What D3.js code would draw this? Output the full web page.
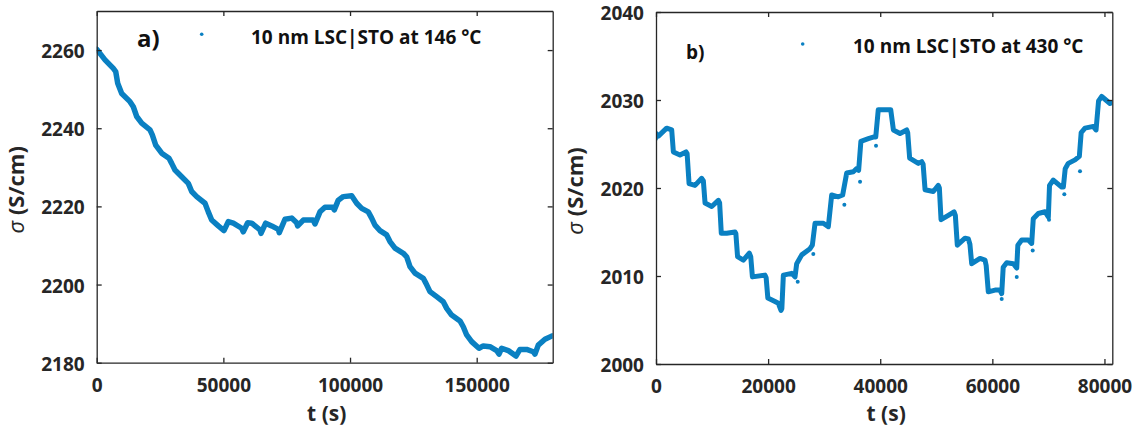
<!DOCTYPE html>
<html><head><meta charset="utf-8">
<script src="https://cdn.jsdelivr.net/npm/d3@7"></script>
<style>body{margin:0;background:#fff}svg{display:block}</style>
</head><body>
<script>
// ---------- data ----------
const leftT = [0,3280,6560,7500,8290,9870,13140,14450,15790,17760,21040,21950,23290,25660,28540,29600,30900,33550,36160,37500,39470,42750,44050,45390,48000,50240,51940,53920,57230,57860,59600,61180,64460,64850,66700,69070,71680,72070,74320,76970,78940,79330,81550,85490,86160,88140,90110,93150,93790,95370,97340,100650,102620,104600,107200,108540,109850,111820,114460,115770,117740,121020,122360,123670,125640,128910,129980,131550,134200,136800,138150,140110,143400,144700,146040,148010,150900,152600,155240,157880,158790,159850,162460,165500,167080,169720,172330,173000,174300,176940,179580,180000];
const leftSigma = [2260.2,2257.5,2255.3,2254.5,2251.5,2248.9,2246.8,2245.5,2243.0,2241.3,2239.6,2238.3,2235.7,2233.6,2232.3,2231.0,2229.3,2227.6,2225.9,2223.8,2222.5,2220.8,2218.6,2216.5,2215.0,2213.8,2216.1,2215.7,2214.4,2213.5,2215.8,2215.7,2214.0,2213.1,2215.7,2215.0,2214.1,2213.3,2216.7,2217.0,2215.8,2215.0,2216.5,2216.5,2215.5,2218.6,2219.8,2219.8,2219.1,2221.6,2222.5,2222.7,2220.8,2219.5,2218.6,2217.0,2215.2,2213.8,2212.7,2211.0,2209.3,2208.0,2207.1,2204.6,2202.9,2201.6,2200.3,2198.2,2196.9,2195.6,2193.9,2192.2,2190.7,2189.2,2187.1,2185.4,2183.7,2184.3,2184.1,2183.1,2182.2,2183.7,2183.1,2181.7,2183.4,2183.4,2182.8,2182.2,2184.5,2186.0,2186.8,2186.9];

const rightT = [0,420,1900,2800,3100,4280,5350,5550,5900,6960,8150,8450,8750,9940,11120,11350,11650,12610,14090,14250,14550,15580,16650,16900,17200,19450,19650,19950,21230,21820,22300,22450,22720,24200,24800,25100,26000,27480,27890,28370,29850,30740,31340,32520,33300,34020,35200,35800,36150,36550,37880,38900,39200,39650,41450,41870,42350,43530,44720,44900,45250,46800,47400,47650,48000,49470,50360,50550,50850,52150,53160,53400,53750,55130,55720,56000,56320,57800,58690,58900,59280,60480,61370,61670,61940,62560,63750,64350,64550,65240,66430,67020,67300,68200,69400,69990,70200,70880,72370,72670,73000,73550,74750,75520,75850,76530,78020,78500,78950,79510,80990,81400];
const rightSigma = [2026.2,2025.9,2026.8,2026.6,2024.1,2023.75,2024.1,2023.9,2020.5,2020.3,2021.1,2020.8,2018.3,2017.9,2018.6,2018.3,2014.85,2014.85,2015.0,2014.8,2012.2,2011.8,2012.6,2012.2,2009.9,2010.1,2009.8,2007.5,2007.1,2006.9,2006.1,2006.3,2010.1,2010.3,2009.9,2011.4,2012.4,2013.1,2013.5,2016.0,2016.0,2015.6,2019.2,2019.0,2019.2,2021.7,2021.85,2022.2,2022.0,2025.3,2025.6,2025.8,2025.8,2028.9,2028.9,2028.9,2026.6,2026.2,2026.6,2026.3,2023.4,2022.8,2023.0,2022.7,2019.8,2019.6,2020.3,2020.0,2016.4,2016.9,2017.3,2016.9,2013.5,2014.3,2014.2,2013.6,2011.4,2012.0,2011.8,2011.2,2008.2,2008.4,2008.4,2008.0,2011.0,2011.5,2011.4,2010.9,2013.5,2014.1,2014.1,2013.7,2016.5,2017.1,2017.3,2016.7,2020.3,2020.9,2020.1,2020.1,2022.2,2022.8,2023.2,2023.6,2026.3,2026.8,2027.0,2026.6,2029.9,2030.4,2029.6,2029.7];

const rightOutT = [0,25280,28060,33600,36400,39250,61670,64350,67200,70110,72840,75640];
const rightOutSigma = [2025.6,2009.35,2012.5,2018.1,2020.7,2024.8,2007.4,2009.9,2012.9,2016.4,2019.3,2021.9];

const leftXTicks = [0,50000,100000,150000];
const leftYTicks = [2180,2200,2220,2240,2260];
const rightXTicks = [0,20000,40000,60000,80000];
const rightYTicks = [2000,2010,2020,2030,2040];
const legendTexts = ["10 nm LSC|STO at 146 °C","10 nm LSC|STO at 430 °C"];
const panelTags = ["a)","b)"];

// ---------- drawing ----------
const BLUE = "#0a80c2", INK = "#262626", FONT = "'Open Sans', sans-serif";
const svg = d3.select("body").append("svg").attr("width",1137).attr("height",428);

function drawPanel(o, idx){
  const x = d3.scaleLinear().domain(o.xDomain).range([o.left,o.right]);
  const y = d3.scaleLinear().domain(o.yDomain).range([o.bottom,o.top]);
  const g = svg.append("g");
  const cid = "clip"+idx;
  g.append("clipPath").attr("id",cid).append("rect")
    .attr("x",o.left).attr("y",o.top).attr("width",o.right-o.left).attr("height",o.bottom-o.top);
  const data = o.t.map((t,i)=>[t,o.s[i]]);
  const plot = g.append("g").attr("clip-path",`url(#${cid})`);
  plot.append("path").datum(data)
    .attr("d", d3.line().x(d=>x(d[0])).y(d=>y(d[1])))
    .attr("fill","none").attr("stroke",BLUE).attr("stroke-width",o.lw)
    .attr("stroke-linejoin","round").attr("stroke-linecap","round");
  if (o.outT){
    plot.selectAll("circle.out").data(o.outT.map((t,i)=>[t,o.outS[i]])).enter()
      .append("circle").attr("cx",d=>x(d[0])).attr("cy",d=>y(d[1])).attr("r",2).attr("fill",BLUE);
  }
  const fmt = d3.format("d");
  const style = sel => {
    sel.select(".domain").attr("stroke",INK).attr("stroke-width",1.3);
    sel.selectAll(".tick line").attr("stroke",INK).attr("stroke-width",1.3);
    sel.selectAll(".tick text").attr("fill",INK).attr("font-family",FONT)
      .attr("font-weight",700).attr("font-size",19);
  };
  const bx = g.append("g").attr("transform",`translate(0,${o.bottom})`)
    .call(d3.axisBottom(x).tickValues(o.xTicks).tickSizeInner(-5).tickSizeOuter(0).tickFormat(fmt));
  style(bx); bx.selectAll(".tick text").attr("y",29).attr("dy",0);
  const tx = g.append("g").attr("transform",`translate(0,${o.top})`)
    .call(d3.axisTop(x).tickValues(o.xTicks).tickSizeInner(-5).tickSizeOuter(0).tickFormat(""));
  style(tx);
  const ly = g.append("g").attr("transform",`translate(${o.left},0)`)
    .call(d3.axisLeft(y).tickValues(o.yTicks).tickSizeInner(-5).tickSizeOuter(0).tickPadding(12).tickFormat(fmt));
  style(ly); ly.selectAll(".tick text").attr("dy","0.4em");
  const ry = g.append("g").attr("transform",`translate(${o.right},0)`)
    .call(d3.axisRight(y).tickValues(o.yTicks).tickSizeInner(-5).tickSizeOuter(0).tickFormat(""));
  style(ry);

  // axis titles
  g.append("text").attr("x",(o.left+o.right)/2+2).attr("y",421).attr("text-anchor","middle")
    .attr("font-family",FONT).attr("font-weight",700).attr("font-size",21).attr("fill",INK)
    .text("t (s)");
  const yt = g.append("text").attr("transform",`translate(${o.left-73},${(o.top+o.bottom)/2+3}) rotate(-90)`)
    .attr("text-anchor","middle").attr("font-family",FONT).attr("font-weight",700)
    .attr("font-size",22).attr("fill",INK);
  yt.append("tspan").attr("font-style","italic").attr("font-weight",400).text("σ");
  yt.append("tspan").text(" (S/cm)");

  // panel tag and legend
  g.append("text").attr("x",o.tagX).attr("y",o.tagY).attr("font-family",FONT).attr("font-weight",700)
    .attr("font-size",o.tagSize).attr("fill","#111").text(o.tag);
  g.append("circle").attr("cx",o.dotX).attr("cy",o.dotY).attr("r",1.8).attr("fill",BLUE);
  g.append("text").attr("x",o.legX).attr("y",o.legY).attr("font-family",FONT).attr("font-weight",700)
    .attr("font-size",19).attr("fill","#111").text(o.legend);
}

drawPanel({t:leftT, s:leftSigma, xDomain:[0,180000], yDomain:[2180,2270],
  left:96.7, right:552.7, top:11, bottom:362.7, lw:5.5,
  xTicks:leftXTicks, yTicks:leftYTicks,
  tag:panelTags[0], tagX:137, tagY:47, tagSize:24,
  dotX:201.7, dotY:34.3, legX:251, legY:43.5, legend:legendTexts[0]}, 0);

drawPanel({t:rightT, s:rightSigma, outT:rightOutT, outS:rightOutSigma,
  xDomain:[0,81400], yDomain:[2000,2040],
  left:656, right:1112.3, top:12, bottom:364, lw:5,
  xTicks:rightXTicks, yTicks:rightYTicks,
  tag:panelTags[1], tagX:686, tagY:59, tagSize:19,
  dotX:802.7, dotY:44, legX:853, legY:52.5, legend:legendTexts[1]}, 1);
</script>
</body></html>
